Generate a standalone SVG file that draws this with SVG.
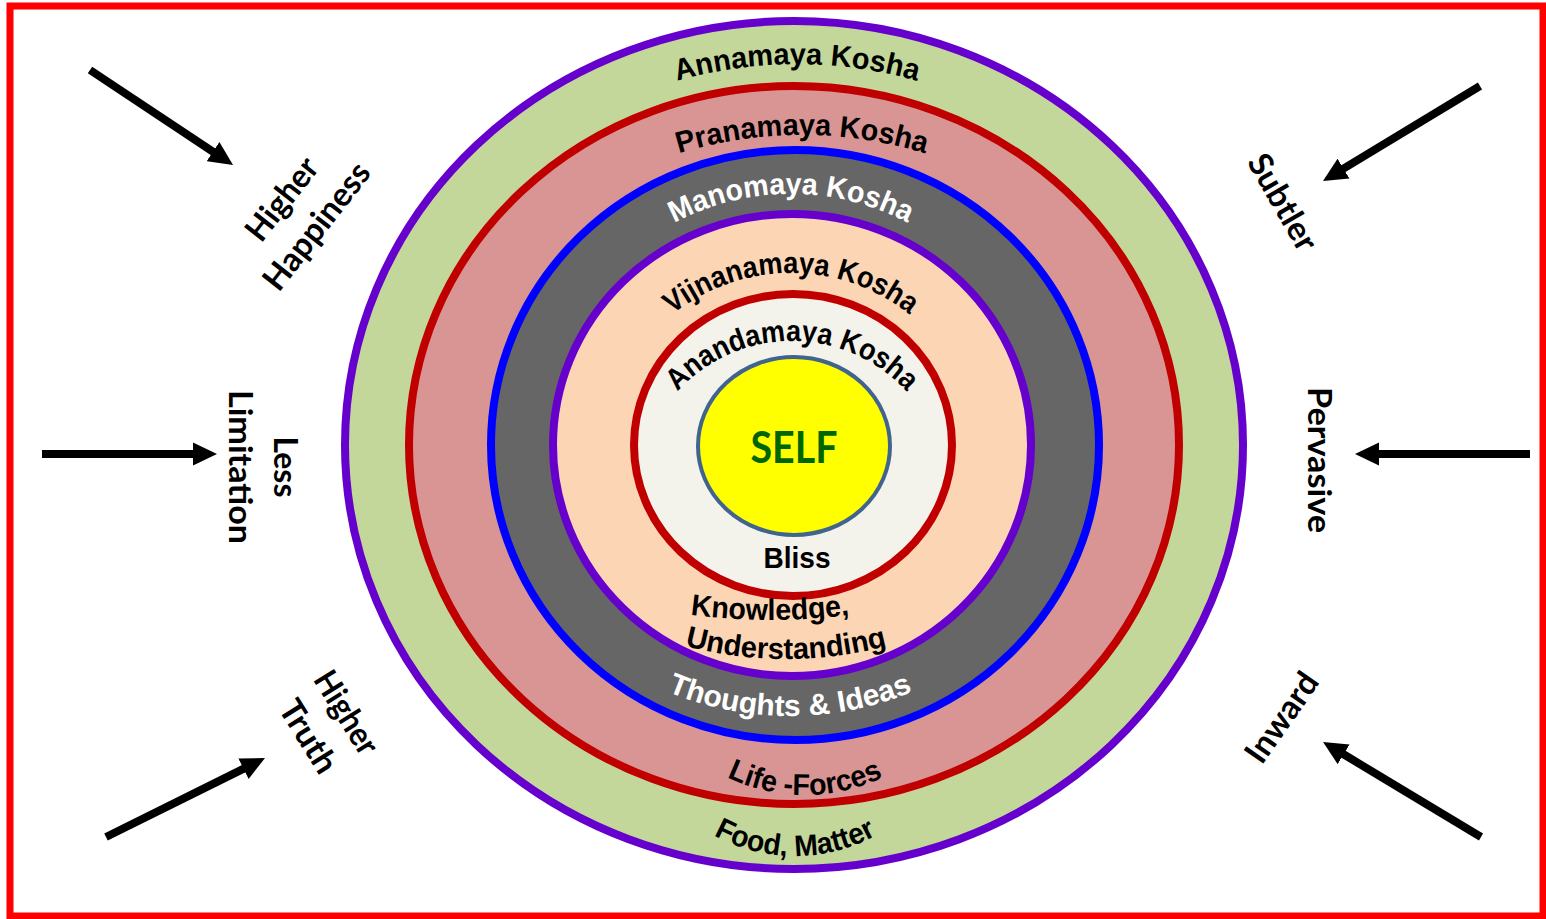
<svg xmlns="http://www.w3.org/2000/svg" width="1546" height="919" viewBox="0 0 1546 919">
<style>
.k{font-family:"Liberation Sans",Arial,sans-serif;font-weight:bold;font-size:30px;fill:#000}
.w{fill:#fff}
.o{font-family:Lato,"Open Sans",sans-serif;font-weight:bold;font-size:33px;fill:#000;text-anchor:middle}
.ring{stroke-width:8}
.arrow{stroke:#000;stroke-width:8;fill:none;marker-end:url(#ah)}
</style>
<defs>
<marker id="ah" markerUnits="userSpaceOnUse" markerWidth="24" markerHeight="24" viewBox="0 0 24 24" refX="2" refY="12" orient="auto">
<path d="M0,0.5 L24,12 L0,23.5 Z" fill="#000"/>
</marker>
<path id="pAnna" d="M357,504 A440,440 0 0 1 1237,504"/>
<path id="pPrana" d="M382,555 A420,420 0 0 1 1222,555"/>
<path id="pMano" d="M541,444 A250,250 0 0 1 1041,444"/>
<path id="pVij" d="M601,463 A190,190 0 0 1 981,463"/>
<path id="pAnan" d="M637,496 A155,155 0 0 1 947,496"/>
<path id="pKnow" d="M170,20 A600,600 0 0 0 1370,20"/>
<path id="pUnder" d="M386,259 A400,400 0 0 0 1186,259"/>
<path id="pThou" d="M470,396 A320,320 0 0 0 1110,396"/>
<path id="pLife" d="M625,615 A180,180 0 0 0 985,615"/>
<path id="pFood" d="M625,686 A170,170 0 0 0 965,686"/>
</defs>
<rect x="0" y="0" width="1546" height="919" fill="#fff"/>
<rect x="10" y="6" width="1533" height="910" fill="none" stroke="#FF0000" stroke-width="7"/>

<g id="annamaya">
<ellipse class="ring" cx="794" cy="445" rx="449" ry="424" fill="#C4D79B" stroke="#6600CC"/>
</g>
<g id="pranamaya">
<ellipse class="ring" cx="794" cy="445" rx="385" ry="359" fill="#D99594" stroke="#C00000"/>
</g>
<g id="manomaya">
<ellipse class="ring" cx="795" cy="445" rx="304" ry="295" fill="#666666" stroke="#0000FF"/>
</g>
<g id="vijnanamaya">
<ellipse class="ring" cx="792" cy="445" rx="239" ry="231" fill="#FCD5B5" stroke="#6600CC"/>
</g>
<g id="anandamaya">
<ellipse class="ring" cx="793" cy="445" rx="159" ry="151" fill="#F3F3EB" stroke="#C00000"/>
</g>
<g id="self">
<ellipse cx="794" cy="446" rx="96" ry="89" fill="#FFFF00" stroke="#41648F" stroke-width="4"/>
<text x="794" y="463" text-anchor="middle" font-family="Lato,'Open Sans',sans-serif" font-weight="bold" font-size="43" fill="#006600" textLength="87" lengthAdjust="spacingAndGlyphs">SELF</text>
</g>

<g id="labels">
<text class="k"><textPath href="#pAnna" startOffset="50%" text-anchor="middle" textLength="243" lengthAdjust="spacingAndGlyphs">Annamaya Kosha</textPath></text>
<text class="k"><textPath href="#pPrana" startOffset="50%" text-anchor="middle" textLength="250" lengthAdjust="spacingAndGlyphs">Pranamaya Kosha</textPath></text>
<text class="k w"><textPath href="#pMano" startOffset="50%" text-anchor="middle" textLength="243" lengthAdjust="spacingAndGlyphs">Manomaya Kosha</textPath></text>
<text class="k"><textPath href="#pVij" startOffset="50%" text-anchor="middle" textLength="256" lengthAdjust="spacingAndGlyphs">Vijnanamaya Kosha</textPath></text>
<text class="k"><textPath href="#pAnan" startOffset="50%" text-anchor="middle" textLength="258" lengthAdjust="spacingAndGlyphs">Anandamaya Kosha</textPath></text>
<text class="k" x="797" y="568" text-anchor="middle" textLength="67" lengthAdjust="spacingAndGlyphs">Bliss</text>
<text class="k"><textPath href="#pKnow" startOffset="50%" text-anchor="middle" textLength="160" lengthAdjust="spacingAndGlyphs">Knowledge,</textPath></text>
<text class="k"><textPath href="#pUnder" startOffset="50%" text-anchor="middle" textLength="205" lengthAdjust="spacingAndGlyphs">Understanding</textPath></text>
<text class="k w"><textPath href="#pThou" startOffset="50%" text-anchor="middle" textLength="252" lengthAdjust="spacingAndGlyphs">Thoughts &amp; Ideas</textPath></text>
<text class="k"><textPath href="#pLife" startOffset="50%" text-anchor="middle" textLength="162" lengthAdjust="spacingAndGlyphs">Life -Forces</textPath></text>
<text class="k"><textPath href="#pFood" startOffset="50%" text-anchor="middle" textLength="170" lengthAdjust="spacingAndGlyphs">Food, Matter</textPath></text>
</g>

<g id="side-labels">
<g transform="translate(301,214) rotate(-52)">
<text class="o" x="0" y="-13" textLength="96" lengthAdjust="spacingAndGlyphs">Higher</text>
<text class="o" x="0" y="31" textLength="152" lengthAdjust="spacingAndGlyphs">Happiness</text>
</g>
<g transform="translate(252,467) rotate(90)">
<text class="o" x="0" y="-22" textLength="61" lengthAdjust="spacingAndGlyphs">Less</text>
<text class="o" x="0" y="23" textLength="154" lengthAdjust="spacingAndGlyphs">Limitation</text>
</g>
<g transform="translate(325,726) rotate(58)">
<text class="o" x="0" y="-14" textLength="92" lengthAdjust="spacingAndGlyphs">Higher</text>
<text class="o" x="0" y="31" textLength="80" lengthAdjust="spacingAndGlyphs">Truth</text>
</g>
<g transform="translate(1273,208) rotate(60)">
<text class="o" x="0" y="0" textLength="106" lengthAdjust="spacingAndGlyphs">Subtler</text>
</g>
<g transform="translate(1308,460) rotate(90)">
<text class="o" x="0" y="0" textLength="146" lengthAdjust="spacingAndGlyphs">Pervasive</text>
</g>
<g transform="translate(1291,724) rotate(-55)">
<text class="o" x="0" y="0" textLength="102" lengthAdjust="spacingAndGlyphs">Inward</text>
</g>
</g>

<g id="connectors">
<line class="arrow" x1="90" y1="70" x2="214.7" y2="152.8"/>
<line class="arrow" x1="42" y1="454" x2="195" y2="454"/>
<line class="arrow" x1="106" y1="837" x2="245.3" y2="767.8"/>
<line class="arrow" x1="1480" y1="86" x2="1341.8" y2="169.6"/>
<line class="arrow" x1="1530" y1="454" x2="1377" y2="454"/>
<line class="arrow" x1="1481" y1="837" x2="1341.9" y2="753.3"/>
</g>
</svg>
